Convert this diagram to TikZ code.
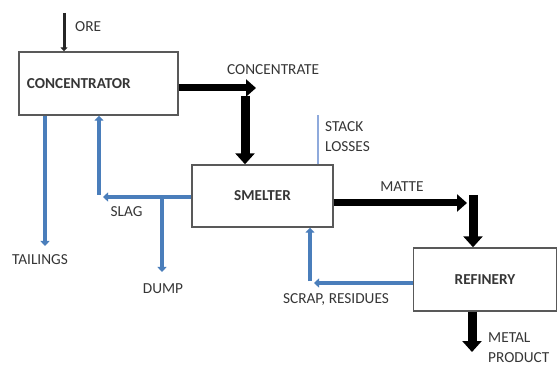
\documentclass[tikz,border=0pt]{standalone}
\usepackage{fontspec}
\setmainfont{Carlito}
\usetikzlibrary{arrows.meta}
\definecolor{flowblue}{HTML}{4A7EBB}
\definecolor{stackblue}{HTML}{8FAADC}
\definecolor{boxline}{HTML}{595959}
\definecolor{txt}{HTML}{363636}
\begin{document}
\begin{tikzpicture}[x=1pt,y=-1pt,
  box/.style={draw=boxline, line width=1.4pt, fill=white, inner sep=0pt,
    font=\fontsize{15.2}{17}\selectfont\bfseries, text=txt},
  lbl/.style={font=\fontsize{15.3}{20}\selectfont, text=txt, inner sep=0pt},
  fat/.style={line width=7pt, black, -{Triangle[width=17pt,length=10pt]}},
  fatv/.style={line width=9pt, black, -{Triangle[width=19pt,length=11pt]}},
  blueflow/.style={line width=4.5pt, flowblue, -{Triangle[width=9pt,length=5pt]}},
  thin/.style={line width=3pt, black!85, -{Triangle[width=7pt,length=4pt]}},
  stack/.style={line width=2.5pt, stackblue}]
\useasboundingbox[fill=white] (0,0) rectangle (557,366);

\node[box, minimum height=63pt, text width=143pt, inner xsep=8pt, align=left] (conc) at (98.5,83.5) {CONCENTRATOR};
\node[box, minimum width=141pt, minimum height=62pt] (smelt) at (262.5,196) {SMELTER};
\node[box, minimum width=143pt, minimum height=63pt] (ref) at (485,279.5) {REFINERY};

% ore
\coordinate (ore) at (64,13);
\draw[thin] (ore) -- (ore |- conc.north);
\node[lbl, anchor=west] (orel) at (75,27) {ORE};

% concentrate
\coordinate (c1) at (256,88);
\draw[fat] (c1 -| conc.east) -- (c1);
\coordinate (c2) at (245,96);
\draw[fatv] (c2) -- (c2 |- smelt.north);
\node[lbl, anchor=west] (concl) at (227,70) {CONCENTRATE};

% stack losses
\coordinate (sl) at (318,115);
\draw[stack] (sl |- smelt.north) -- (sl);
\node[lbl, anchor=west, align=left] (sll) at (325,137) {STACK\\LOSSES};

% tailings
\coordinate (tl) at (45,246);
\draw[blueflow] (tl |- conc.south) -- (tl);
\node[lbl] (taill) at (40,260) {TAILINGS};

% slag
\coordinate (sg) at (103,197);
\draw[blueflow] (sg -| smelt.west) -- (sg);
\coordinate (sgv) at (99,195);
\draw[blueflow] (sgv) -- (sgv |- conc.south);
\node[lbl] (slagl) at (126.5,212) {SLAG};

% dump
\coordinate (dp) at (162,272);
\draw[blueflow] (dp |- sg) -- (dp);
\node[lbl] (dumpl) at (163,289) {DUMP};

% matte
\coordinate (m1) at (467,203);
\draw[fat] (m1 -| smelt.east) -- (m1);
\coordinate (m2) at (473,195);
\draw[fatv] (m2) -- (m2 |- ref.north);
\node[lbl] (mattel) at (402,187) {MATTE};

% scrap, residues
\coordinate (sc) at (314,283);
\draw[blueflow] (sc -| ref.west) -- (sc);
\coordinate (scv) at (310,281);
\draw[blueflow] (scv) -- (scv |- smelt.south);
\node[lbl] (scrapl) at (336,300) {SCRAP, RESIDUES};

% metal product
\coordinate (mp) at (472,352);
\draw[fatv] (mp |- ref.south) -- (mp);
\node[lbl, anchor=west, align=left] (mpl) at (488,348) {METAL\\PRODUCT};
\end{tikzpicture}
\end{document}
